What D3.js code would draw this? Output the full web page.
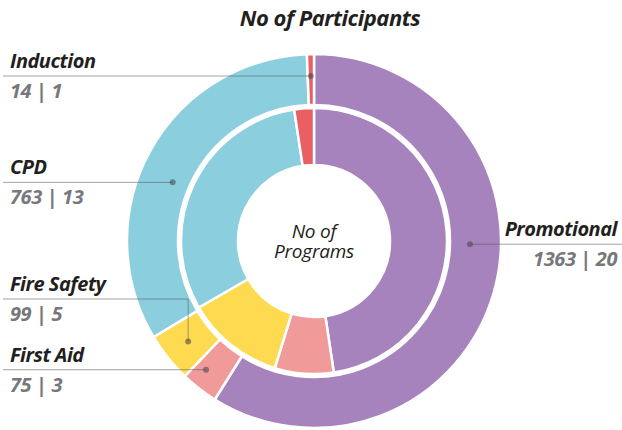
<!DOCTYPE html>
<html>
<head>
<meta charset="utf-8">
<script src="https://cdn.jsdelivr.net/npm/d3@7"></script>
<style>
  body { margin: 0; background: #fff; }
  svg text { font-family: "Open Sans", "Noto Sans", sans-serif; }
</style>
</head>
<body>
<svg id="chart" width="622" height="430"></svg>
<script>
// categories in clockwise order starting at 12 o'clock
const categories = ["Promotional", "First Aid", "Fire Safety", "CPD", "Induction"];
const participants = [1363, 75, 99, 763, 14];   // outer ring
const programs = [20, 3, 5, 13, 1];             // inner ring
const colors = ["#A783BD", "#F19A9A", "#FDDA50", "#8BCFDE", "#E95F62"];

const title = "No of Participants";
const centerLabel = ["No of", "Programs"];

// label layout: where on the segment the dot sits, and where the text goes
const labelLayout = {
  "Promotional": {t: 0.43, r: 156, side: "right", lineY: 242},
  "First Aid":   {t: 0.68, r: 168, side: "left",  lineY: 370},
  "Fire Safety": {t: 0.50, r: 161, side: "left",  lineY: 299, elbow: true},
  "CPD":         {t: 0.45, r: 153, side: "left",  lineY: 181},
  "Induction":   {t: 0.50, r: 165, side: "left",  lineY: 76}
};

const width = 622, height = 430;
const cx = 314, cy = 241;
const outerR = 187, ringGap = 136, innerR = 133, holeR = 76;

const svg = d3.select("#chart");

const pie = d3.pie().sort(null).value(d => d);
const outerArcs = pie(participants);
const innerArcs = pie(programs);

const outerArc = d3.arc().innerRadius(ringGap).outerRadius(outerR);
const innerArc = d3.arc().innerRadius(holeR).outerRadius(innerR);

const g = svg.append("g").attr("transform", `translate(${cx},${cy})`);

g.append("g").selectAll("path")
  .data(outerArcs)
  .join("path")
  .attr("d", outerArc)
  .attr("fill", (d, i) => colors[i])
  .attr("stroke", "#fff")
  .attr("stroke-width", 2.5);

g.append("g").selectAll("path")
  .data(innerArcs)
  .join("path")
  .attr("d", innerArc)
  .attr("fill", (d, i) => colors[i])
  .attr("stroke", "#fff")
  .attr("stroke-width", 2.5);

// center text, two separate lines
g.append("g")
  .selectAll("text")
  .data(centerLabel)
  .join("text")
  .attr("x", 0)
  .attr("y", (d, i) => -3 + i * 20)
  .attr("text-anchor", "middle")
  .attr("font-style", "italic")
  .attr("font-size", 19)
  .attr("letter-spacing", -0.2)
  .attr("fill", "#231f20")
  .text(d => d);

// title
svg.append("text")
  .attr("x", 330)
  .attr("y", 26)
  .attr("text-anchor", "middle")
  .attr("font-weight", "bold")
  .attr("font-style", "italic")
  .attr("font-size", 22)
  .attr("letter-spacing", -0.5)
  .attr("fill", "#231f20")
  .text(title);

// labels with leader lines
const labels = svg.append("g");
categories.forEach((name, i) => {
  const lay = labelLayout[name];
  const a = outerArcs[i];
  const ang = a.startAngle + (a.endAngle - a.startAngle) * lay.t;
  const dx = cx + lay.r * Math.sin(ang);
  const dy = cy - lay.r * Math.cos(ang);

  const lineEnd = lay.side === "right" ? width : 3;
  const pts = lay.elbow
    ? [[lineEnd, lay.lineY], [dx, lay.lineY], [dx, dy]]
    : [[lineEnd, dy], [dx, dy]];
  const ly = lay.elbow ? lay.lineY : dy;

  labels.append("path")
    .attr("d", d3.line()(pts))
    .attr("fill", "none")
    .attr("stroke", "#555")
    .attr("stroke-opacity", 0.55)
    .attr("stroke-width", 1);

  labels.append("circle")
    .attr("cx", dx)
    .attr("cy", dy)
    .attr("r", 3)
    .attr("fill", "#444")
    .attr("fill-opacity", 0.55);

  const tx = lay.side === "right" ? 617 : 10;
  const anchor = lay.side === "right" ? "end" : "start";

  labels.append("text")
    .attr("x", tx)
    .attr("y", ly - 8)
    .attr("text-anchor", anchor)
    .attr("font-weight", "bold")
    .attr("font-style", "italic")
    .attr("font-size", 20)
    .attr("letter-spacing", -0.5)
    .attr("fill", "#231f20")
    .text(name);

  labels.append("text")
    .attr("x", tx)
    .attr("y", ly + 22)
    .attr("text-anchor", anchor)
    .attr("font-weight", "bold")
    .attr("font-style", "italic")
    .attr("font-size", 20)
    .attr("letter-spacing", -0.4)
    .attr("fill", "#77787b")
    .text(`${participants[i]} | ${programs[i]}`);
});
</script>
</body>
</html>
